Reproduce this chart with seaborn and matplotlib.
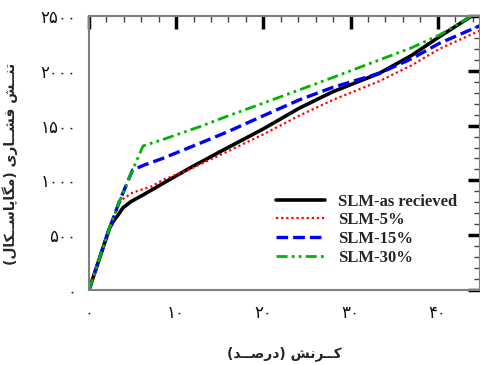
import pandas as pd
import seaborn as sns
import matplotlib.pyplot as plt
from matplotlib.ticker import MultipleLocator

# Data (strain %, stress MPa)
strain_asrec = [0, 1, 2.35, 2.9, 3.3, 3.9, 4.8, 6.4, 8.5, 11.5, 15, 20, 24.1, 28, 33.3, 37, 40.2, 44.0]
stress_asrec = [0, 240, 563, 640, 680, 750, 806, 876, 973, 1110, 1260, 1470, 1658, 1810, 1977, 2140, 2311, 2505]

strain_5 = [0, 1, 2.35, 3.2, 3.7, 5.0, 7.1, 8.5, 11.5, 15, 20, 24.1, 28, 33.3, 37, 40.2, 44.8]
stress_5 = [0, 240, 563, 740, 821, 888, 943, 1004, 1100, 1230, 1420, 1590, 1735, 1905, 2050, 2200, 2365]

strain_15 = [0, 1, 2.35, 3.5, 5.0, 6.36, 8.3, 12.7, 16, 20, 24.1, 28, 33.3, 37, 40.2, 44.8]
stress_15 = [0, 240, 563, 810, 1095, 1141, 1196, 1338, 1447, 1590, 1734, 1850, 1977, 2110, 2251, 2410]

strain_30 = [0, 1, 2.35, 3.5, 5.0, 6.2, 7.1, 8.3, 12.7, 16, 20, 24.1, 28, 33.3, 37, 40.2, 43.9]
stress_30 = [0, 240, 563, 810, 1095, 1314, 1338, 1368, 1490, 1590, 1705, 1825, 1940, 2099, 2210, 2327, 2500]

labels = ['SLM-as recieved', 'SLM-5%', 'SLM-15%', 'SLM-30%']
x_ticks = [0, 10, 20, 30, 40]
x_ticklabels = ['۰', '۱۰', '۲۰', '۳۰', '۴۰']
y_ticks = [0, 500, 1000, 1500, 2000, 2500]
y_ticklabels = ['۰', '۵۰۰', '۱۰۰۰', '۱۵۰۰', '۲۰۰۰', '۲۵۰۰']
x_title = 'کــرنش (درصــد)'
y_title = 'تنــش فشــاری (مگاپاســکال)'

# matplotlib has no Arabic shaping: map to presentation forms, visual order
FORMS = {
    'ا': ('\uFE8D', '\uFE8E', '\uFE8D', '\uFE8E'),
    'د': ('\uFEA9', '\uFEAA', '\uFEA9', '\uFEAA'),
    'ر': ('\uFEAD', '\uFEAE', '\uFEAD', '\uFEAE'),
    'ت': ('\uFE95', '\uFE96', '\uFE97', '\uFE98'),
    'ن': ('\uFEE5', '\uFEE6', '\uFEE7', '\uFEE8'),
    'ش': ('\uFEB5', '\uFEB6', '\uFEB7', '\uFEB8'),
    'ف': ('\uFED1', '\uFED2', '\uFED3', '\uFED4'),
    'ی': ('\uFBFC', '\uFBFD', '\uFBFE', '\uFBFF'),
    'م': ('\uFEE1', '\uFEE2', '\uFEE3', '\uFEE4'),
    'گ': ('\uFB92', '\uFB93', '\uFB94', '\uFB95'),
    'پ': ('\uFB56', '\uFB57', '\uFB58', '\uFB59'),
    'س': ('\uFEB1', '\uFEB2', '\uFEB3', '\uFEB4'),
    'ک': ('\uFB8E', '\uFB8F', '\uFB90', '\uFB91'),
    'ل': ('\uFEDD', '\uFEDE', '\uFEDF', '\uFEE0'),
    'ص': ('\uFEB9', '\uFEBA', '\uFEBB', '\uFEBC'),
    'ـ': ('ـ', 'ـ', 'ـ', 'ـ'),
}
NONJOIN = set('ادر')


def shape(text):
    out = []
    for i, c in enumerate(text):
        if c not in FORMS:
            out.append(c)
            continue
        prev = text[i - 1] if i > 0 else ''
        nxt = text[i + 1] if i + 1 < len(text) else ''
        jp = prev in FORMS and prev not in NONJOIN
        jn = nxt in FORMS and c not in NONJOIN
        f = FORMS[c]
        out.append(f[3] if jp and jn else f[1] if jp else f[2] if jn else f[0])
    vis = ''.join(reversed(out))
    return vis.translate(str.maketrans('()', ')('))


sns.set_style('white')
plt.rcParams['font.family'] = ['DejaVu Sans']

fig = plt.figure(figsize=(4.81, 3.65), dpi=100)
ax = fig.add_axes([0.185, 0.2055, 0.812, 0.7507])

series = [
    (strain_asrec, stress_asrec, 'black', '-', 2.6),
    (strain_5, stress_5, 'red', (0, (1, 1.3)), 1.6),
    (strain_15, stress_15, 'blue', (0, (3.5, 1.5)), 2.4),
    (strain_30, stress_30, '#00b400', (0, (4, 1.5, 1, 1.5, 1, 1.5)), 2.0),
]
for (xs, ys, col, ls, lw), lab in zip(series, labels):
    df = pd.DataFrame({'strain': xs, 'stress': ys})
    sns.lineplot(data=df, x='strain', y='stress', color=col, linestyle=ls,
                 linewidth=lw, label=lab, sort=False, estimator=None, ax=ax)

ax.set_xlim(0, 44.8)
ax.set_ylim(0, 2500)
ax.set_xticks(x_ticks)
ax.set_xticklabels(x_ticklabels)
ax.set_yticks(y_ticks)
ax.set_yticklabels(y_ticklabels)
ax.xaxis.set_minor_locator(MultipleLocator(2))
ax.yaxis.set_minor_locator(MultipleLocator(100))
ax.tick_params(which='major', direction='in', length=9, width=2.5, color='black',
               top=True, right=True, labelsize=12, labelcolor='#111111')
ax.tick_params(which='minor', direction='in', length=4, width=1, color='#444444',
               top=True, right=True)
ax.tick_params(axis='x', which='major', pad=10)
ax.tick_params(axis='y', which='major', pad=9)
for sp in ax.spines.values():
    sp.set_color('#808080')
    sp.set_linewidth(1.5)

ax.set_xlabel(shape(x_title), fontsize=10, fontweight='bold')
ax.set_ylabel(shape(y_title), fontsize=10, fontweight='bold')
ax.xaxis.set_label_coords(0.5, -0.205)
ax.yaxis.set_label_coords(-0.182, 0.46)

ax.legend(loc='upper left', bbox_to_anchor=(0.48, 0.352), frameon=False,
          prop={'family': 'Liberation Serif', 'weight': 'bold', 'size': 12},
          handlelength=2.9, handletextpad=0.8, labelspacing=0.16,
          borderpad=0, borderaxespad=0)

fig.savefig('out.png', dpi=100)
